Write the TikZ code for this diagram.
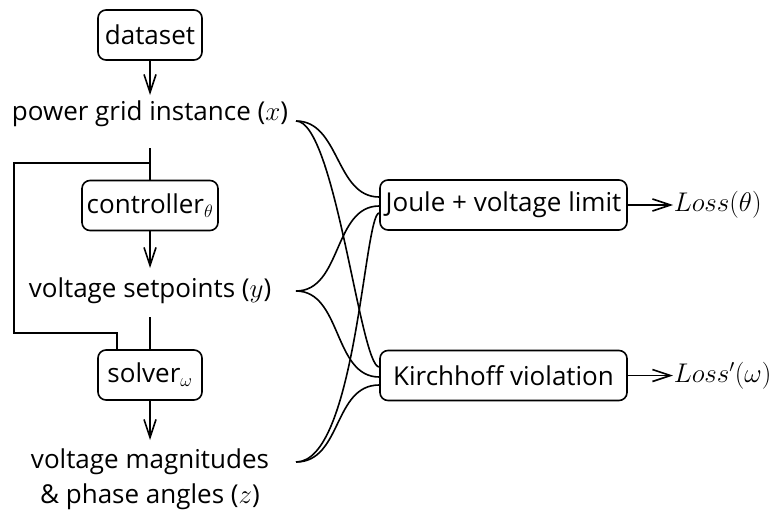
\RequirePackage{fix-cm}
\documentclass[tikz,border=0pt]{standalone}
\usepackage{fontspec}
\setmainfont{Open Sans}
\DeclareMathSizes{26}{27}{18}{14}
\usetikzlibrary{arrows.meta,calc}
\begin{document}
\begin{tikzpicture}[x=1pt,y=1pt,
  line width=1.6pt,
  every node/.style={font=\fontsize{26}{35}\selectfont},
  box/.style={draw, rounded corners=8pt, minimum height=50pt, inner sep=2pt},
  lbl/.style={inner sep=0pt},
  arr/.style={-{Straight Barb[length=18pt,width=12pt]}},
]
\useasboundingbox (0,0) rectangle (776,-511);
% left column
\node[box, minimum width=104pt] (ds) at (150,-35) {dataset};
\node[lbl, anchor=base] (pg) at (150,-120) {power grid instance ($x$)};
\node[box, minimum width=136pt] (ctl) at (150,-205.5) {controller$_\theta$};
\node[lbl, anchor=base] (vs) at (150,-297) {voltage setpoints ($y$)};
\node[box, minimum width=104pt] (sol) at (150,-375) {solver$_\omega$};
\node[lbl, anchor=base, align=center] (vm) at (150,-503) {voltage magnitudes\\\& phase angles ($z$)};
% right column
\node[box, minimum width=247pt] (J) at (503.5,-205) {Joule + voltage limit};
\node[box, minimum width=247pt] (K) at (503.5,-375.5) {Kirchhoff violation};
\node[lbl, anchor=west] (L1) at (673,-205) {$Loss(\theta)$};
\node[lbl, anchor=west] (L2) at (673,-375.5) {$Loss'(\omega)$};
% vertical flow
\draw[arr] (ds.south) -- ($(pg.base)+(0,25)$);
\draw ($(pg.base)+(0,-28)$) -- (ctl.north);
\coordinate (br1) at (150,-163);
\draw[arr] (ctl.south) -- ($(vs.base)+(0,29)$);
\draw ($(vs.base)+(0,-20)$) -- (sol.north);
\coordinate (lp) at (14,-333);
\draw (br1) -| (lp) -| ($(sol.north)+(-33,0)$);
\draw[arr] (sol.south) -- ($(vm.base)+(0,63)$);
% outputs
\draw[arr] (J.east) -- (L1.west);
\draw[arr] (K.east) -- (L2.west);
% fan-in curves
\coordinate (ox) at (296,-121);
\coordinate (oy) at (296,-291);
\coordinate (oz) at (296,-462);
\draw (ox) .. controls +(44,0) and +(-44,0) .. ($(J.west)+(0,8)$);
\draw (ox) .. controls +(39,0) and +(-19,0) .. ($(K.west)+(0,8.5)$);
\draw (oy) .. controls +(46,0) and +(-46,0) .. ($(J.west)+(0,-1)$);
\draw (oy) .. controls +(46,0) and +(-46,0) .. ($(K.west)+(0,-1.5)$);
\draw (oz) .. controls +(60,0) and +(-15,0) .. ($(J.west)+(0,-8)$);
\draw (oz) .. controls +(46,0) and +(-46,0) .. ($(K.west)+(0,-9.5)$);
\end{tikzpicture}
\end{document}
